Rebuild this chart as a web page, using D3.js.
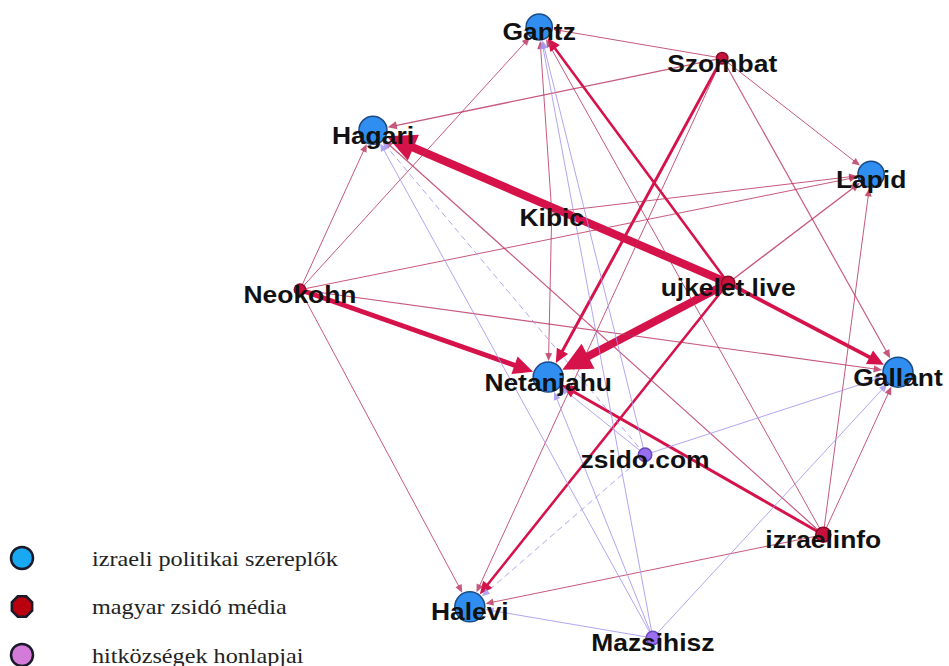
<!DOCTYPE html>
<html>
<head>
<meta charset="utf-8">
<script src="https://d3js.org/d3.v7.min.js"></script>
<style>
    body { margin: 0; background: #fff; }
    .label {
        font-family: "Liberation Sans", Arial, sans-serif;
        font-weight: bold;
        font-size: 24px;
        fill: #111;
    }
    .legend text {
        font-family: "Liberation Serif", "Times New Roman", serif;
        font-size: 22px;
        fill: #222;
    }
</style>
</head>
<body>
<div id="network"></div>
<script>
    // nodes: name, group, layout position (0-100 layout units), weight
    var nodeNames = ["Gantz", "Szombat", "Hagari", "Lapid", "Kibic", "Neokohn", "ujkelet.live",
        "Netanjahu", "Gallant", "zsido.com", "izraelinfo", "Halevi", "Mazsihisz"];
    var nodeGroups = ["pol", "media", "pol", "pol", "media", "media", "media",
        "pol", "pol", "hitk", "media", "pol", "hitk"];
    var nodeX = [40.0, 70.6, 12.2, 95.5, 42.1, 0, 71.6, 41.5, 100, 57.7, 87.5, 28.4, 59.0];
    var nodeY = [0, 5.1, 16.9, 24.1, 30.3, 43.0, 41.9, 57.3, 56.5, 70.0, 83.1, 94.9, 100];
    var nodeValue = [42, 8, 48, 42, 0, 8, 11, 55, 55, 11, 14, 55, 11];

    // edges (source -> target, tie weight; weight below 1 = occasional mention)
    var edgeFrom = ["ujkelet.live", "ujkelet.live", "Neokohn", "ujkelet.live", "Szombat", "izraelinfo",
        "ujkelet.live", "ujkelet.live", "ujkelet.live",
        "Szombat", "Szombat", "Szombat", "Szombat", "Szombat",
        "Neokohn", "Neokohn", "Neokohn", "Neokohn", "Neokohn",
        "izraelinfo", "izraelinfo", "izraelinfo", "izraelinfo", "izraelinfo",
        "Kibic", "Kibic", "Kibic",
        "Mazsihisz", "Mazsihisz", "Mazsihisz", "Mazsihisz", "Mazsihisz",
        "zsido.com", "zsido.com", "zsido.com", "zsido.com", "zsido.com"];
    var edgeTo = ["Hagari", "Netanjahu", "Netanjahu", "Gallant", "Netanjahu", "Netanjahu",
        "Halevi", "Gantz", "Lapid",
        "Gantz", "Hagari", "Lapid", "Gallant", "Halevi",
        "Gantz", "Hagari", "Lapid", "Gallant", "Halevi",
        "Gantz", "Hagari", "Lapid", "Gallant", "Halevi",
        "Gantz", "Netanjahu", "Lapid",
        "Gantz", "Hagari", "Netanjahu", "Halevi", "Gallant",
        "Gantz", "Hagari", "Netanjahu", "Gallant", "Halevi"];
    var edgeWeight = [10, 10, 6, 4.5, 3.5, 3.5,
        3, 3, 1.5,
        1, 1.5, 1, 1.2, 1,
        1, 1, 1, 1.2, 1,
        1, 1.2, 1, 1, 1,
        1, 1, 1,
        1, 1, 1, 1, 1,
        1, 0.5, 1, 1, 0.5];

    var legendLabels = ["izraeli politikai szereplők", "magyar zsidó média", "hitközségek honlapjai"];
    var legendGroups = ["pol", "media", "hitk"];

    var width = 949, height = 666;

    var svg = d3.select("#network")
        .append("svg")
        .attr("width", width)
        .attr("height", height);

    var x = d3.scaleLinear().domain([0, 100]).range([300, 898]);
    var y = d3.scaleLinear().domain([0, 100]).range([27, 638]);
    var r = d3.scaleSqrt().domain([0, 55]).range([0, 15]);
    var w = d3.scaleLinear().domain([1, 10]).range([1, 8]).clamp(true);

    var nodeFill = { pol: "#2f8ef0", media: "#c8103c", hitk: "#9a6ef0" };
    var nodeStroke = { pol: "#1c4a86", media: "#8a0a28", hitk: "#6a48b8" };
    var legendFill = { pol: "#19a8f2", media: "#b8000e", hitk: "#d47ad8" };

    var nodes = nodeNames.map(function (n, i) {
        return { name: n, group: nodeGroups[i], x: x(nodeX[i]), y: y(nodeY[i]), r: r(nodeValue[i]) };
    });
    var byName = {};
    nodes.forEach(function (d) { byName[d.name] = d; });

    var edges = edgeFrom.map(function (s, i) {
        return { source: byName[s], target: byName[edgeTo[i]], weight: edgeWeight[i] };
    });

    function edgeColor(d) {
        if (d.source.group == "hitk") return "#a595ee";
        return d.weight >= 3 ? "#d6124a" : "#b8305a";
    }
    function edgeOpacity(d) {
        if (d.source.group == "hitk") return 0.85;
        return d.weight >= 3 ? 1 : 0.8;
    }

    // geometry of each edge: shortened line + arrow head
    edges.forEach(function (d) {
        var dx = d.target.x - d.source.x, dy = d.target.y - d.source.y;
        var len = Math.sqrt(dx * dx + dy * dy);
        var ux = dx / len, uy = dy / len;
        var sw = w(d.weight);
        var L = 5 + 3 * sw, hw = 2 + 1.5 * sw;
        var tip = [d.target.x - ux * (d.target.r + 1), d.target.y - uy * (d.target.r + 1)];
        var base = [tip[0] - ux * L, tip[1] - uy * L];
        d.line = [[d.source.x, d.source.y], [base[0] + ux, base[1] + uy]];
        d.head = [tip, [base[0] - uy * hw, base[1] + ux * hw], [base[0] + uy * hw, base[1] - ux * hw]];
        d.sw = sw;
    });

    var line = d3.line();

    var edgeG = svg.append("g").attr("class", "edges");
    edgeG.selectAll("path.link")
        .data(edges)
        .enter()
        .append("path")
        .attr("class", "link")
        .attr("d", function (d) { return line(d.line); })
        .style("fill", "none")
        .style("stroke", edgeColor)
        .style("stroke-opacity", edgeOpacity)
        .style("stroke-width", function (d) { return d.sw; })
        .style("stroke-dasharray", function (d) { return d.weight < 1 ? "6,4" : null; });

    edgeG.selectAll("path.head")
        .data(edges)
        .enter()
        .append("path")
        .attr("class", "head")
        .attr("d", function (d) { return line(d.head) + "Z"; })
        .style("fill", edgeColor)
        .style("fill-opacity", edgeOpacity);

    // nodes
    svg.append("g").selectAll("circle")
        .data(nodes.filter(function (d) { return d.r > 0; }))
        .enter()
        .append("circle")
        .attr("cx", function (d) { return d.x; })
        .attr("cy", function (d) { return d.y; })
        .attr("r", function (d) { return d.r; })
        .style("fill", function (d) { return nodeFill[d.group]; })
        .style("stroke", function (d) { return nodeStroke[d.group]; })
        .style("stroke-width", 1.5);

    // labels on top
    svg.append("g").selectAll("text")
        .data(nodes)
        .enter()
        .append("text")
        .attr("class", "label")
        .attr("transform", function (d) { return "translate(" + d.x + "," + (d.y + 5) + ") scale(1.1,1)"; })
        .attr("text-anchor", "middle")
        .attr("dy", "0.35em")
        .text(function (d) { return d.name; });

    // legend
    var legend = svg.append("g").attr("class", "legend");
    var ly = d3.scalePoint().domain(legendGroups).range([558, 655]);

    var item = legend.selectAll("g")
        .data(legendGroups)
        .enter()
        .append("g")
        .attr("transform", function (d) { return "translate(22," + ly(d) + ")"; });

    item.append("path")
        .attr("d", function (d) {
            if (d == "media") {
                // octagon marker
                var pts = d3.range(8).map(function (k) {
                    var a = Math.PI / 8 + k * Math.PI / 4;
                    return [11 * Math.cos(a), 11 * Math.sin(a)];
                });
                return line(pts) + "Z";
            }
            return d3.symbol().type(d3.symbolCircle).size(Math.PI * 11 * 11)();
        })
        .style("fill", function (d) { return legendFill[d]; })
        .style("stroke", "#1a1a2a")
        .style("stroke-width", 2.5);

    item.append("text")
        .attr("transform", "translate(70,0) scale(1.1,1)")
        .attr("dy", "0.35em")
        .text(function (d, i) { return legendLabels[i]; });
</script>
</body>
</html>
